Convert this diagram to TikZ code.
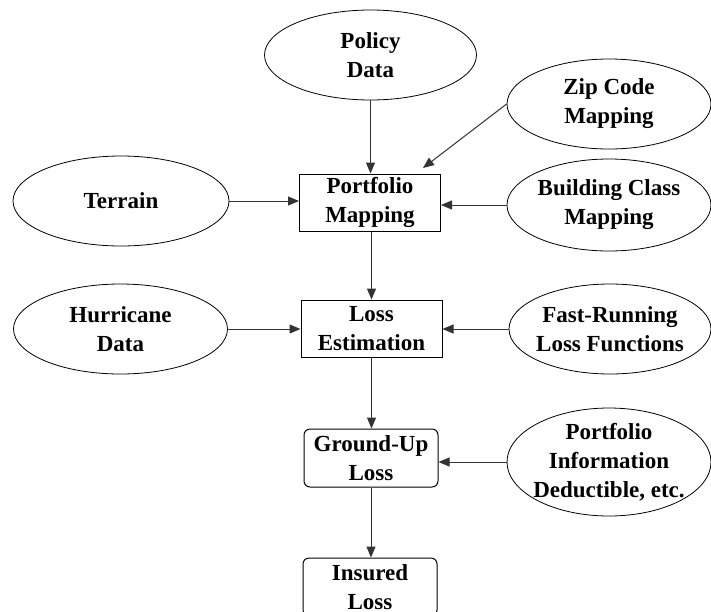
\documentclass[tikz,border=0pt]{standalone}
\usepackage{fontspec}
\setmainfont{Liberation Serif}
\usetikzlibrary{shapes.geometric,arrows.meta}
\begin{document}
\begin{tikzpicture}[x=1pt, y=-1pt, >={Triangle[length=11pt,width=9pt]},
  font=\fontsize{23}{29}\selectfont\bfseries,
  source/.style={ellipse, draw, line width=0.8pt, inner sep=-12pt, align=center},
  stage/.style={rectangle, draw, line width=1pt, inner sep=0pt, minimum width=141pt, minimum height=57pt, align=center},
  result/.style={stage, rounded corners=6pt, minimum width=134pt, minimum height=58pt},
  flow/.style={->, line width=1pt, draw=black!80}]
\useasboundingbox (0,0) rectangle (711,611);

\node[source, minimum width=212pt, minimum height=90pt] (policy) at (370.5,55) {Policy\\Data};
\node[source, minimum width=204pt, minimum height=90pt] (zip) at (609,104) {Zip Code\\Mapping};
\node[source, minimum width=216pt, minimum height=90pt] (terrain) at (121,201) {Terrain};
\node[source, minimum width=204pt, minimum height=92pt] (building) at (609,205) {Building Class\\Mapping};
\node[source, minimum width=214pt, minimum height=90pt] (hurricane) at (120.5,329) {Hurricane\\Data};
\node[source, minimum width=202pt, minimum height=90pt] (fastrun) at (610,329) {Fast-Running\\Loss Functions};
\node[source, minimum width=204pt, minimum height=108pt] (portinfo) at (609,462) {Portfolio\\Information\\Deductible, etc.};

\node[stage] (mapping) at (370,202.5) {Portfolio\\Mapping};
\node[stage] (estimation) at (371.5,328.5) {Loss\\Estimation};
\node[result] (groundup) at (371,458) {Ground-Up\\Loss};
\node[result] (insured) at (370,587) {Insured\\Loss};
\coordinate (zipend) at (423,168);

\draw[flow] (policy.south) -- (policy.south |- mapping.north);
\draw[flow] (zip.west) -- (zipend);
\draw[flow] (terrain.east) -- (terrain.east -| mapping.west);
\draw[flow] (building.west) -- (mapping.east |- building.west);
\draw[flow] (mapping.south -| estimation.north) -- (estimation.north);
\draw[flow] (hurricane.east) -- (hurricane.east -| estimation.west);
\draw[flow] (fastrun.west) -- (estimation.east |- fastrun.west);
\draw[flow] (estimation.south) -- (estimation.south |- groundup.north);
\draw[flow] (portinfo.west) -- (groundup.east |- portinfo.west);
\draw[flow] (groundup.south) -- (groundup.south |- insured.north);
\end{tikzpicture}
\end{document}
